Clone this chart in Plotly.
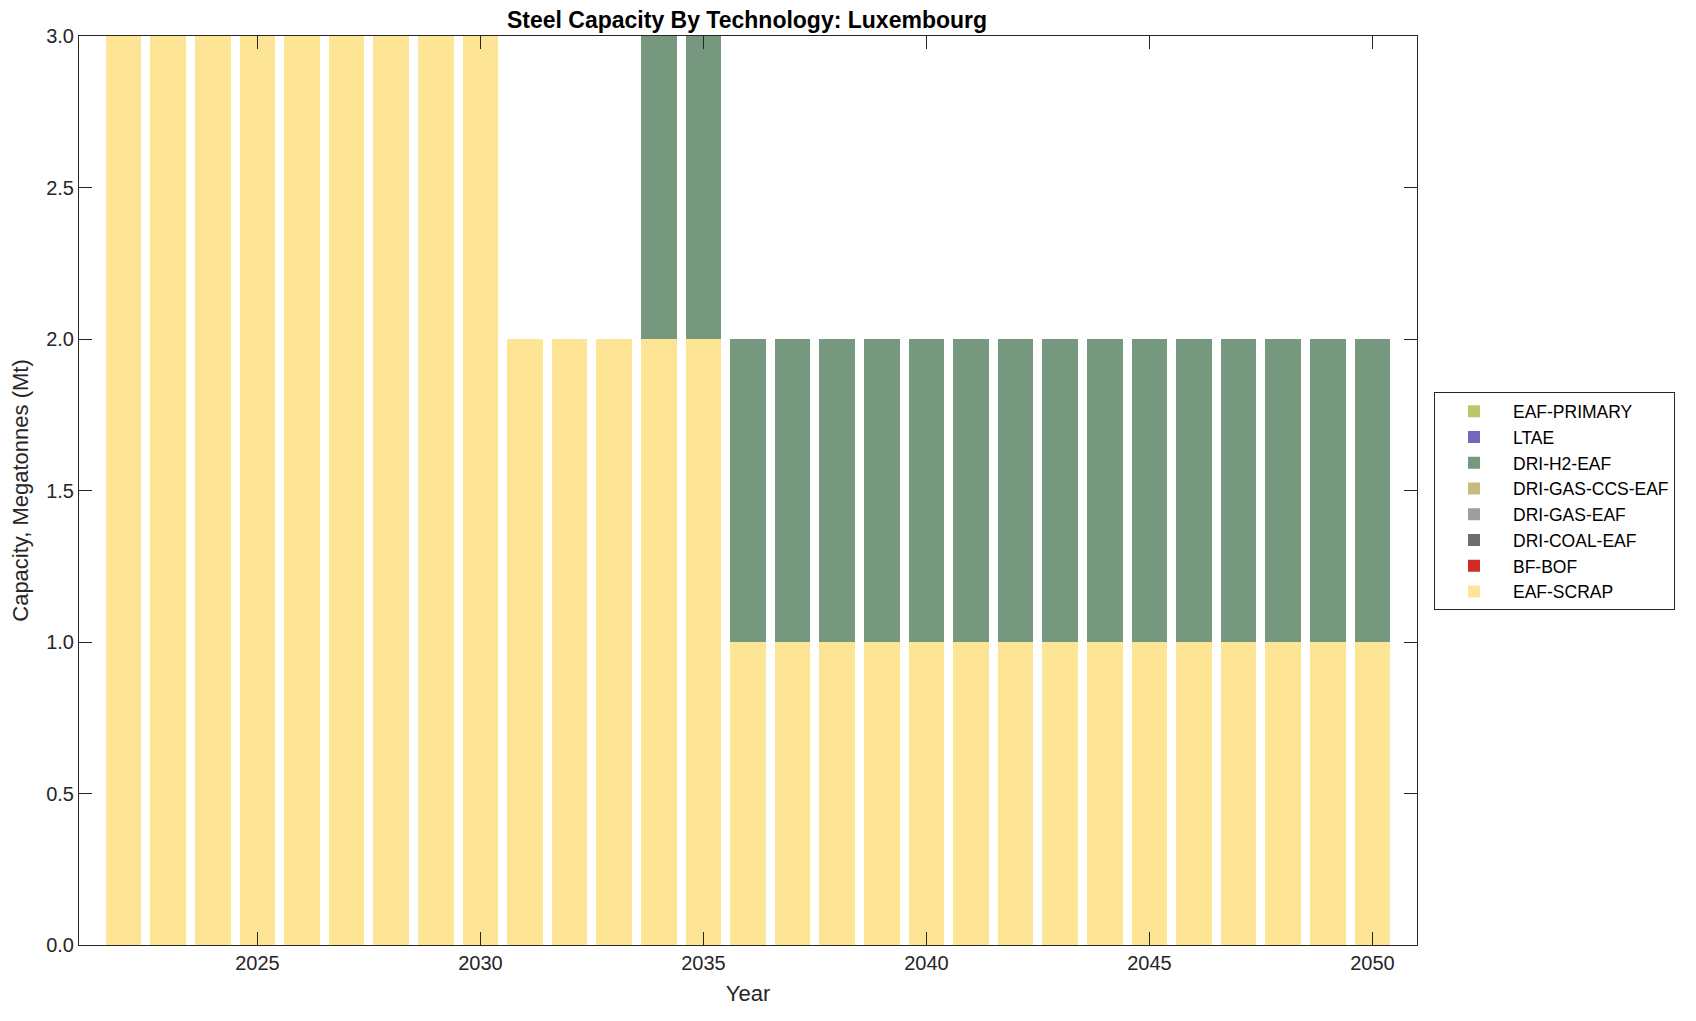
import plotly.graph_objects as go

years = list(range(2022, 2051))
eaf_scrap = [3]*9 + [2]*5 + [1]*15
bf_bof = [0]*29
dri_coal_eaf = [0]*29
dri_gas_eaf = [0]*29
dri_gas_ccs_eaf = [0]*29
dri_h2_eaf = [0]*12 + [1, 1] + [1]*15
ltae = [0]*29
eaf_primary = [0]*29

series = [
    ("EAF-SCRAP", eaf_scrap, "#FEE595"),
    ("BF-BOF", bf_bof, "#D22B26"),
    ("DRI-COAL-EAF", dri_coal_eaf, "#6E6E6E"),
    ("DRI-GAS-EAF", dri_gas_eaf, "#9E9E9E"),
    ("DRI-GAS-CCS-EAF", dri_gas_ccs_eaf, "#C4BB7D"),
    ("DRI-H2-EAF", dri_h2_eaf, "#76987E"),
    ("LTAE", ltae, "#7368B8"),
    ("EAF-PRIMARY", eaf_primary, "#BEC66A"),
]

fig = go.Figure()
for name, vals, col in series:
    fig.add_trace(go.Bar(x=years, y=vals, name=name, marker_color=col,
                         marker_line_width=0, width=0.8))

W, H = 1680, 1005
font = "Liberation Sans, Arial, Helvetica, sans-serif"
axis_common = dict(showline=True, linecolor="#262626", linewidth=1, mirror="ticks",
                   ticks="inside", ticklen=13, tickcolor="#262626", showgrid=False,
                   zeroline=False, tickfont=dict(size=20, color="#262626"))
fig.update_layout(
    width=W, height=H,
    barmode="stack",
    plot_bgcolor="white", paper_bgcolor="white",
    margin=dict(l=69, r=W - 1409, t=28, b=H - 944),
    font=dict(family=font, color="#262626"),
    title=dict(text="<b>Steel Capacity By Technology: Luxembourg</b>",
               x=739 / W, xanchor="center", y=1 - 12 / H, yanchor="middle",
               font=dict(size=23, color="black")),
    xaxis=dict(range=[2021, 2051], tickvals=[2025, 2030, 2035, 2040, 2045, 2050],
               title=dict(text="Year", font=dict(size=22), standoff=12), **axis_common),
    yaxis=dict(range=[0, 3], tickvals=[0, 0.5, 1, 1.5, 2, 2.5, 3], tickformat=".1f",
               title=dict(text="Capacity, Megatonnes (Mt)", font=dict(size=22), standoff=11),
               **axis_common),
    legend=dict(x=1.0127, xanchor="left", y=0.608, yanchor="top",
                traceorder="reversed", bordercolor="#262626", borderwidth=1,
                font=dict(size=17.5, color="black"), tracegroupgap=0, itemwidth=68),
    bargap=0.2,
)

fig.write_html("out.html")
